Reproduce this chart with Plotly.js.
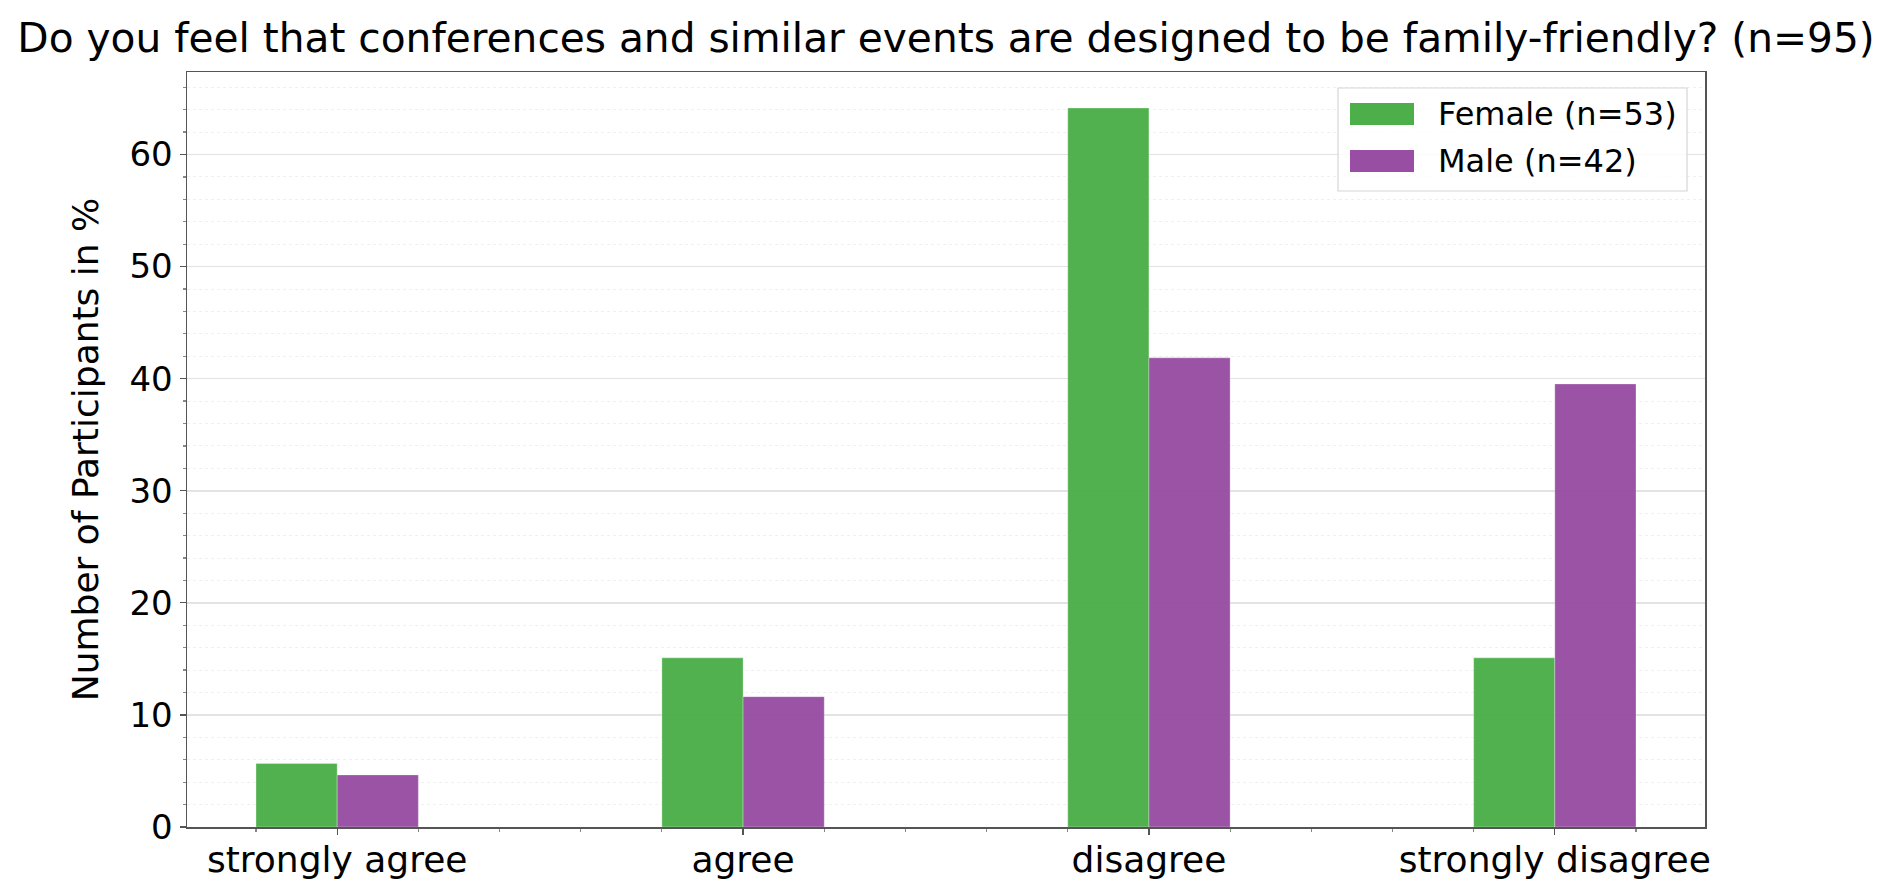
<!DOCTYPE html>
<html>
<head>
<meta charset="utf-8">
<script src="https://cdn.plot.ly/plotly-3.0.1.min.js"></script>
<style>
  body { margin: 0; background: #fff; }
  #plot { width: 1892px; height: 887px; }
</style>
</head>
<body>
<div id="plot"></div>
<script>
// answers, in % of each group
var categories = ['strongly agree', 'agree', 'disagree', 'strongly disagree'];
var female = [5.66, 15.09, 64.15, 15.09];
var male = [4.65, 11.63, 41.86, 39.53];
var seriesNames = ['Female (n=53)', 'Male (n=42)'];
var colors = ['#4daf4a', '#984ea3'];

var W = 1892, H = 887;
var M = { l: 187, r: 187, t: 72, b: 60 };
var pw = W - M.l - M.r, ph = H - M.t - M.b;

// pixel -> paper helpers for the hand-drawn legend
function px(x) { return (x - M.l) / pw; }
function py(y) { return (H - M.b - y) / ph; }

var xs = categories.map(function (c, i) { return i; });

var traceF = {
	type: 'bar',
	x: xs,
	y: female,
	name: seriesNames[0],
	marker: { color: colors[0], opacity: 0.97, line: { color: 'rgba(255,255,255,0.3)', width: 1 } },
	hoverinfo: 'none'
};

var traceM = {
	type: 'bar',
	x: xs,
	y: male,
	name: seriesNames[1],
	marker: { color: colors[1], opacity: 0.97, line: { color: 'rgba(255,255,255,0.3)', width: 1 } },
	hoverinfo: 'none'
};

// legend drawn as shapes + annotations so the patches get matplotlib size
var shapes = [{
	type: 'rect', xref: 'paper', yref: 'paper', layer: 'above',
	x0: px(1338), x1: px(1687), y0: py(191), y1: py(88),
	fillcolor: 'rgba(255,255,255,0.8)', line: { color: '#d6d6d6', width: 1.2 }
}];
var annotations = [];
var rowY = [114, 161];
seriesNames.forEach(function (n, i) {
	shapes.push({
		type: 'rect', xref: 'paper', yref: 'paper', layer: 'above',
		x0: px(1350), x1: px(1414), y0: py(rowY[i] + 11), y1: py(rowY[i] - 11),
		fillcolor: colors[i], line: { width: 0 }
	});
	annotations.push({
		xref: 'paper', yref: 'paper', x: px(1436), y: py(rowY[i]),
		xanchor: 'left', yanchor: 'middle', showarrow: false,
		text: n, font: { size: 32, color: '#000' }
	});
});

var layout = {
	width: W,
	height: H,
	margin: M,
	barmode: 'group',
	bargap: 0.6,
	bargroupgap: 0,
	showlegend: false,
	paper_bgcolor: '#fff',
	plot_bgcolor: '#fff',
	font: { family: 'DejaVu Sans, sans-serif', color: '#000', size: 36 },
	title: {
		text: 'Do you feel that conferences and similar events are designed to be family-friendly? (n=95)',
		font: { size: 40.7 },
		x: 0.5, xref: 'paper', xanchor: 'center',
		y: 1 - 38 / H, yref: 'container', yanchor: 'middle'
	},
	xaxis: {
		range: [-0.37, 3.37],
		tickvals: xs,
		ticktext: categories,
		ticks: 'outside', ticklen: 6, tickcolor: '#555', tickwidth: 1.2,
		ticklabelstandoff: -6,
		minor: { dtick: 0.2, tick0: 0, ticks: 'outside', ticklen: 3, tickcolor: '#888', showgrid: false },
		showgrid: false,
		zeroline: false,
		showline: true, linecolor: '#555', linewidth: 1.5, mirror: true,
		tickfont: { size: 36 }
	},
	yaxis: {
		range: [0, 67.36],
		dtick: 10,
		tick0: 0,
		ticks: 'outside', ticklen: 6, tickcolor: '#555', tickwidth: 1.2,
		showgrid: true, gridcolor: '#e3e3e3', gridwidth: 1.5,
		minor: { dtick: 2, ticks: 'outside', ticklen: 3, tickcolor: '#888', showgrid: true, gridcolor: '#f0f0f0', gridwidth: 1, griddash: 'dot' },
		zeroline: false,
		showline: true, linecolor: '#555', linewidth: 1.5, mirror: true,
		tickfont: { size: 34 },
		title: { text: 'Number of Participants in %', font: { size: 36 }, standoff: 20 }
	},
	shapes: shapes,
	annotations: annotations
};

Plotly.newPlot('plot', [traceF, traceM], layout, { staticPlot: true, displayModeBar: false });
</script>
</body>
</html>
